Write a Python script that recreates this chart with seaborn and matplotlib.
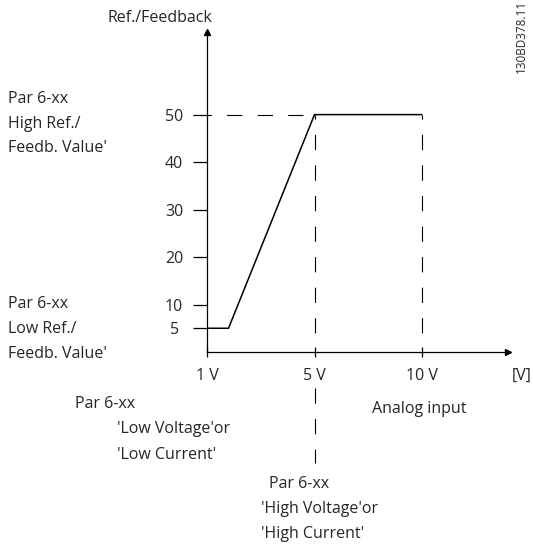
import pandas as pd
import matplotlib.pyplot as plt
import seaborn as sns

# --- data ---
tick_pos = [0, 1, 2]
tick_labels = ['1 V', '5 V', '10 V']
y_ticks = [5, 10, 20, 30, 40, 50]
curve_x = [0, 0.2, 1, 2]
curve_ref = [5, 5, 50, 50]
low_ref = 5
high_ref = 50

sns.set_style('white')
plt.rcParams['font.family'] = ['Open Sans', 'DejaVu Sans']
plt.rcParams['lines.scale_dashes'] = False

W, H = 533, 544
fig = plt.figure(figsize=(W / 100, H / 100), dpi=100)

def fx(px):
    return px / W

def fy(py):
    return 1 - py / H

# axes box in pixels: left 207, right 508, bottom 352, top 32
ax = fig.add_axes([fx(207), fy(352), fx(508 - 207), (352 - 32) / H])
ax.set_xlim(0, 2.8)
ax.set_ylim(0, 67.4)

df = pd.DataFrame({'pos': curve_x, 'ref': curve_ref})
sns.lineplot(data=df, x='pos', y='ref', color='black', lw=1.1, sort=False, ax=ax)

dash = (0, (11, 11))
ax.plot([0.89, 0], [high_ref, high_ref], color='black', lw=0.8, linestyle=dash)
for p in tick_pos[1:]:
    ax.plot([p, p], [4.0, high_ref], color='black', lw=0.8, linestyle=dash)
ax.plot([tick_pos[1]] * 2, [-7.6, -23.4], color='black', lw=0.8, linestyle=dash, clip_on=False)

for s in ['top', 'right']:
    ax.spines[s].set_visible(False)
for s in ['left', 'bottom']:
    ax.spines[s].set_linewidth(0.9)
    ax.spines[s].set_color('black')

# arrow heads
ax.plot(1, 0, '>k', ms=4, transform=ax.transAxes, clip_on=False)
ax.plot(0, 1, '^k', ms=4, transform=ax.transAxes, clip_on=False)

ax.set_xticks(tick_pos)
ax.set_xticklabels(tick_labels)
ax.set_yticks(y_ticks)
ax.set_yticks([v for v in y_ticks if low_ref < v < high_ref], minor=True)
ax.tick_params(axis='y', which='major', left=True, direction='out', length=10, width=0.9,
               pad=13.7, labelsize=11.5, color='black')
ax.tick_params(axis='y', which='minor', left=True, direction='in', length=9.5, width=0.9,
               color='black')
ax.tick_params(axis='x', which='major', bottom=True, direction='inout', length=7.2, width=0.9,
               pad=8, labelsize=11.5, color='black')
for lab in ax.get_yticklabels():
    lab.set_horizontalalignment('center')
ax.set_xlabel('')
ax.set_ylabel('')

fs = 11.5
texts = [
    ('Ref./Feedback', 160, 22, 'center'),
    ('Par 6-xx', 8, 103, 'left'),
    ('High Ref./', 8, 128, 'left'),
    ("Feedb. Value'", 8, 152, 'left'),
    ('Par 6-xx', 8, 308, 'left'),
    ('Low Ref./', 8, 333, 'left'),
    ("Feedb. Value'", 8, 358, 'left'),
    ('[V]', 512, 380, 'left'),
    ('Analog input', 372, 413, 'left'),
    ('Par 6-xx', 75, 408, 'left'),
    ("'Low Voltage'or", 117, 433, 'left'),
    ("'Low Current'", 117, 459, 'left'),
    ('Par 6-xx', 269, 488, 'left'),
    ("'High Voltage'or", 261, 513, 'left'),
    ("'High Current'", 261, 538, 'left'),
]
for t, x, y, ha in texts:
    fig.text(fx(x), fy(y), t, ha=ha, va='baseline', fontsize=fs)

fig.text(fx(521), fy(36), '130BD378.11', rotation=90, ha='center', va='center', fontsize=8.5)

fig.savefig('out.png', dpi=100)
